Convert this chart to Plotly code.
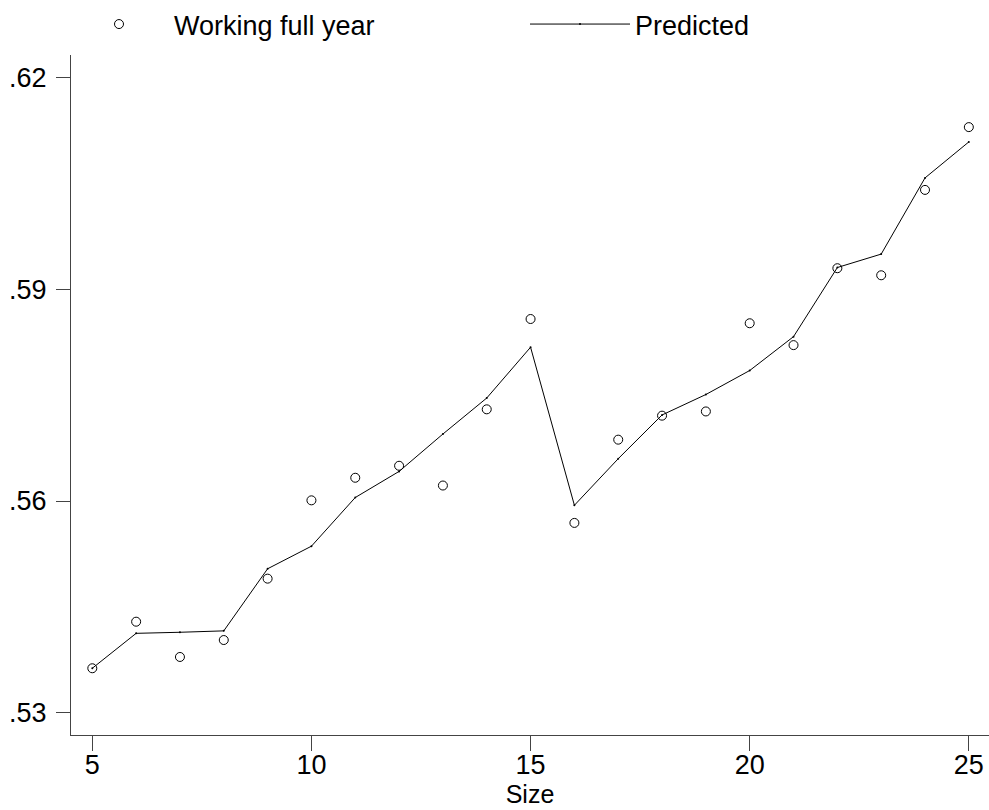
import plotly.graph_objects as go

# Household size and share of workers employed the full year
size = [5, 6, 7, 8, 9, 10, 11, 12, 13, 14, 15, 16, 17, 18, 19, 20, 21, 22, 23, 24, 25]
working_full_year = [0.5363, 0.5429, 0.5379, 0.5403, 0.5490, 0.5601, 0.5633, 0.5650,
                     0.5622, 0.5730, 0.5858, 0.5569, 0.5687, 0.5721, 0.5727, 0.5852,
                     0.5821, 0.5930, 0.5920, 0.6041, 0.6130]
predicted = [0.5363, 0.54125, 0.5414, 0.5416, 0.5504, 0.5536, 0.5605, 0.5642,
             0.5695, 0.5746, 0.5818, 0.5594, 0.5660, 0.5722, 0.5751, 0.5785,
             0.5833, 0.5931, 0.5950, 0.6058, 0.6109]

x_ticks = [5, 10, 15, 20, 25]
y_ticks = [0.53, 0.56, 0.59, 0.62]
y_tick_labels = [".53", ".56", ".59", ".62"]

FONT = "Liberation Sans, Arial, sans-serif"
AXIS_COLOR = "#444444"

fig = go.Figure()
fig.add_trace(go.Scatter(
    x=size, y=working_full_year, mode="markers", name="Working full year",
    marker=dict(symbol="circle-open", size=9, color="black", line=dict(width=1)),
))
fig.add_trace(go.Scatter(
    x=size, y=predicted, mode="lines+markers", name="Predicted",
    line=dict(color="black", width=1),
    marker=dict(size=2, color="black"),
))

fig.update_layout(
    width=989, height=810,
    margin=dict(l=71, r=0, t=55, b=75, autoexpand=False),
    paper_bgcolor="white", plot_bgcolor="white",
    font=dict(family=FONT, size=27, color="black"),
    showlegend=True,
    legend=dict(
        orientation="h", x=64 / 989, y=1.0, xref="container", yref="container",
        xanchor="left", yanchor="top",
        itemwidth=100, entrywidth=346, font=dict(size=27),
        bgcolor="rgba(0,0,0,0)", tracegroupgap=0,
    ),
    xaxis=dict(
        range=[4.514, 25.46], tickvals=x_ticks, showgrid=False, zeroline=False,
        showline=True, linecolor=AXIS_COLOR, linewidth=1.3,
        ticks="outside", ticklen=15, tickwidth=1, tickcolor=AXIS_COLOR,
        tickfont=dict(size=27), ticklabelstandoff=-10,
        title=dict(text="Size", font=dict(size=25), standoff=2),
    ),
    yaxis=dict(
        range=[0.52684, 0.62322], tickvals=y_ticks, ticktext=y_tick_labels,
        showgrid=False, zeroline=False,
        showline=True, linecolor=AXIS_COLOR, linewidth=1.3,
        ticks="outside", ticklen=14, tickwidth=1, tickcolor=AXIS_COLOR,
        tickfont=dict(size=27), ticklabelstandoff=4,
    ),
)

fig.write_html("out.html")
